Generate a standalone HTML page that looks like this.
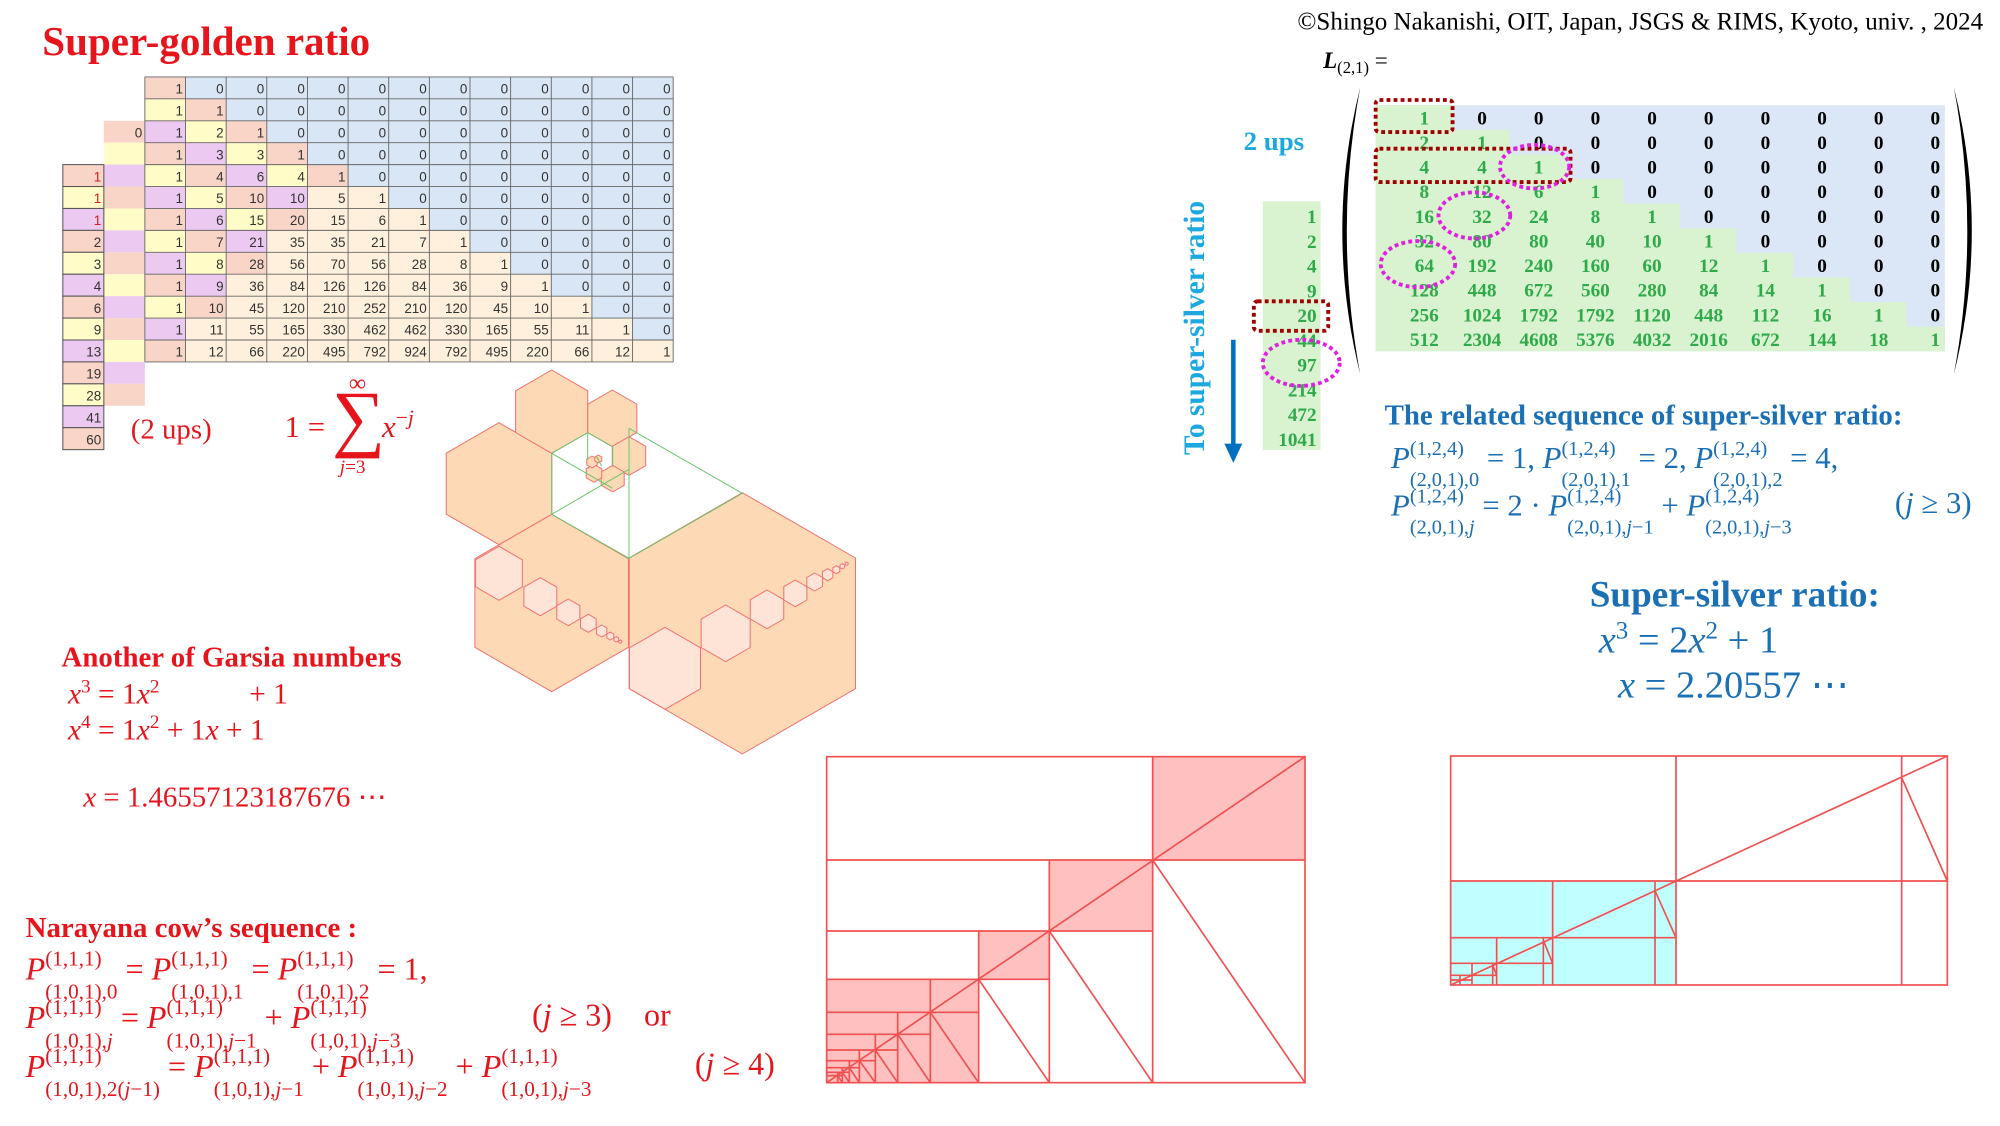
<!DOCTYPE html>
<html><head><meta charset="utf-8">
<style>
html,body{margin:0;padding:0;background:#fff;}
body{width:2000px;height:1125px;overflow:hidden;position:relative;}
#c{position:absolute;left:0;top:0;width:1560px;height:878px;transform:scale(1.28205);transform-origin:0 0;font-family:"Liberation Serif",serif;}
.t{position:absolute;white-space:nowrap;line-height:1;}
.ss{position:relative;display:inline-block;font-size:.66em;}
.sb{position:relative;top:.88em;}
.sp{position:absolute;left:0;top:-.66em;}
.red{color:#e8141c;}
.blu{color:#1a6fb5;}
svg{position:absolute;left:0;top:0;}
</style></head><body><div id="c">
<svg width="1560" height="878" viewBox="0 0 1560 878">
<rect x="113" y="60" width="412.1" height="222.3" fill="#d9e6f5"/>
<polygon fill="#fef0dc" points="113,60 144.7,60 144.7,77.1 176.4,77.1 176.4,94.2 208.1,94.2 208.1,111.3 239.8,111.3 239.8,128.4 271.5,128.4 271.5,145.5 303.2,145.5 303.2,162.6 334.9,162.6 334.9,179.7 366.6,179.7 366.6,196.8 398.3,196.8 398.3,213.9 430,213.9 430,231 461.7,231 461.7,248.1 493.4,248.1 493.4,265.2 525.1,265.2 525.1,282.3 113,282.3"/>
<g>
<rect x="113" y="60" width="31.7" height="17.1" fill="#f9d5c8"/>
<rect x="113" y="77.1" width="31.7" height="17.1" fill="#fffcc8"/><rect x="144.7" y="77.1" width="31.7" height="17.1" fill="#f9d5c8"/>
<rect x="113" y="94.2" width="31.7" height="17.1" fill="#ecc9f0"/><rect x="144.7" y="94.2" width="31.7" height="17.1" fill="#fffcc8"/><rect x="176.4" y="94.2" width="31.7" height="17.1" fill="#f9d5c8"/>
<rect x="113" y="111.3" width="31.7" height="17.1" fill="#f9d5c8"/><rect x="144.7" y="111.3" width="31.7" height="17.1" fill="#ecc9f0"/><rect x="176.4" y="111.3" width="31.7" height="17.1" fill="#fffcc8"/><rect x="208.1" y="111.3" width="31.7" height="17.1" fill="#f9d5c8"/>
<rect x="113" y="128.4" width="31.7" height="17.1" fill="#fffcc8"/><rect x="144.7" y="128.4" width="31.7" height="17.1" fill="#f9d5c8"/><rect x="176.4" y="128.4" width="31.7" height="17.1" fill="#ecc9f0"/><rect x="208.1" y="128.4" width="31.7" height="17.1" fill="#fffcc8"/><rect x="239.8" y="128.4" width="31.7" height="17.1" fill="#f9d5c8"/>
<rect x="113" y="145.5" width="31.7" height="17.1" fill="#ecc9f0"/><rect x="144.7" y="145.5" width="31.7" height="17.1" fill="#fffcc8"/><rect x="176.4" y="145.5" width="31.7" height="17.1" fill="#f9d5c8"/><rect x="208.1" y="145.5" width="31.7" height="17.1" fill="#ecc9f0"/>
<rect x="113" y="162.6" width="31.7" height="17.1" fill="#f9d5c8"/><rect x="144.7" y="162.6" width="31.7" height="17.1" fill="#ecc9f0"/><rect x="176.4" y="162.6" width="31.7" height="17.1" fill="#fffcc8"/><rect x="208.1" y="162.6" width="31.7" height="17.1" fill="#f9d5c8"/>
<rect x="113" y="179.7" width="31.7" height="17.1" fill="#fffcc8"/><rect x="144.7" y="179.7" width="31.7" height="17.1" fill="#f9d5c8"/><rect x="176.4" y="179.7" width="31.7" height="17.1" fill="#ecc9f0"/>
<rect x="113" y="196.8" width="31.7" height="17.1" fill="#ecc9f0"/><rect x="144.7" y="196.8" width="31.7" height="17.1" fill="#fffcc8"/><rect x="176.4" y="196.8" width="31.7" height="17.1" fill="#f9d5c8"/>
<rect x="113" y="213.9" width="31.7" height="17.1" fill="#f9d5c8"/><rect x="144.7" y="213.9" width="31.7" height="17.1" fill="#ecc9f0"/>
<rect x="113" y="231" width="31.7" height="17.1" fill="#fffcc8"/><rect x="144.7" y="231" width="31.7" height="17.1" fill="#f9d5c8"/>
<rect x="113" y="248.1" width="31.7" height="17.1" fill="#ecc9f0"/>
<rect x="113" y="265.2" width="31.7" height="17.1" fill="#f9d5c8"/>
</g>
<g>
<rect x="81" y="94.2" width="32" height="17.1" fill="#f9d5c8"/>
<rect x="81" y="111.3" width="32" height="17.1" fill="#fffcc8"/>
<rect x="81" y="128.4" width="32" height="17.1" fill="#ecc9f0"/>
<rect x="81" y="145.5" width="32" height="17.1" fill="#f9d5c8"/>
<rect x="81" y="162.6" width="32" height="17.1" fill="#fffcc8"/>
<rect x="81" y="179.7" width="32" height="17.1" fill="#ecc9f0"/>
<rect x="81" y="196.8" width="32" height="17.1" fill="#f9d5c8"/>
<rect x="81" y="213.9" width="32" height="17.1" fill="#fffcc8"/>
<rect x="81" y="231" width="32" height="17.1" fill="#ecc9f0"/>
<rect x="81" y="248.1" width="32" height="17.1" fill="#f9d5c8"/>
<rect x="81" y="265.2" width="32" height="17.1" fill="#fffcc8"/>
<rect x="81" y="282.3" width="32" height="17.1" fill="#ecc9f0"/>
<rect x="81" y="299.4" width="32" height="17.1" fill="#f9d5c8"/>
</g>
<g stroke="#555" stroke-width="0.8">
<rect x="49" y="128.4" width="32" height="17.1" fill="#f9d5c8"/>
<rect x="49" y="145.5" width="32" height="17.1" fill="#fffcc8"/>
<rect x="49" y="162.6" width="32" height="17.1" fill="#ecc9f0"/>
<rect x="49" y="179.7" width="32" height="17.1" fill="#f9d5c8"/>
<rect x="49" y="196.8" width="32" height="17.1" fill="#fffcc8"/>
<rect x="49" y="213.9" width="32" height="17.1" fill="#ecc9f0"/>
<rect x="49" y="231" width="32" height="17.1" fill="#f9d5c8"/>
<rect x="49" y="248.1" width="32" height="17.1" fill="#fffcc8"/>
<rect x="49" y="265.2" width="32" height="17.1" fill="#ecc9f0"/>
<rect x="49" y="282.3" width="32" height="17.1" fill="#f9d5c8"/>
<rect x="49" y="299.4" width="32" height="17.1" fill="#fffcc8"/>
<rect x="49" y="316.5" width="32" height="17.1" fill="#ecc9f0"/>
<rect x="49" y="333.6" width="32" height="17.1" fill="#f9d5c8"/>
</g>
<g stroke="#666" stroke-width="0.7">
<line x1="113" y1="60" x2="113" y2="282.3"/><line x1="144.7" y1="60" x2="144.7" y2="282.3"/><line x1="176.4" y1="60" x2="176.4" y2="282.3"/><line x1="208.1" y1="60" x2="208.1" y2="282.3"/><line x1="239.8" y1="60" x2="239.8" y2="282.3"/><line x1="271.5" y1="60" x2="271.5" y2="282.3"/><line x1="303.2" y1="60" x2="303.2" y2="282.3"/><line x1="334.9" y1="60" x2="334.9" y2="282.3"/><line x1="366.6" y1="60" x2="366.6" y2="282.3"/><line x1="398.3" y1="60" x2="398.3" y2="282.3"/><line x1="430" y1="60" x2="430" y2="282.3"/><line x1="461.7" y1="60" x2="461.7" y2="282.3"/><line x1="493.4" y1="60" x2="493.4" y2="282.3"/><line x1="525.1" y1="60" x2="525.1" y2="282.3"/>
<line x1="113" y1="60" x2="525.1" y2="60"/><line x1="113" y1="77.1" x2="525.1" y2="77.1"/><line x1="113" y1="94.2" x2="525.1" y2="94.2"/><line x1="113" y1="111.3" x2="525.1" y2="111.3"/><line x1="113" y1="128.4" x2="525.1" y2="128.4"/><line x1="113" y1="145.5" x2="525.1" y2="145.5"/><line x1="113" y1="162.6" x2="525.1" y2="162.6"/><line x1="113" y1="179.7" x2="525.1" y2="179.7"/><line x1="113" y1="196.8" x2="525.1" y2="196.8"/><line x1="113" y1="213.9" x2="525.1" y2="213.9"/><line x1="113" y1="231" x2="525.1" y2="231"/><line x1="113" y1="248.1" x2="525.1" y2="248.1"/><line x1="113" y1="265.2" x2="525.1" y2="265.2"/><line x1="113" y1="282.3" x2="525.1" y2="282.3"/>
</g>
<g font-family="Liberation Sans Narrow,Liberation Sans,sans-serif" font-size="10.5" fill="#333" text-anchor="end">
<text y="73"><tspan x="142.7">1</tspan><tspan x="174.4">0</tspan><tspan x="206.1">0</tspan><tspan x="237.8">0</tspan><tspan x="269.5">0</tspan><tspan x="301.2">0</tspan><tspan x="332.9">0</tspan><tspan x="364.6">0</tspan><tspan x="396.3">0</tspan><tspan x="428">0</tspan><tspan x="459.7">0</tspan><tspan x="491.4">0</tspan><tspan x="523.1">0</tspan></text>
<text y="90.1"><tspan x="142.7">1</tspan><tspan x="174.4">1</tspan><tspan x="206.1">0</tspan><tspan x="237.8">0</tspan><tspan x="269.5">0</tspan><tspan x="301.2">0</tspan><tspan x="332.9">0</tspan><tspan x="364.6">0</tspan><tspan x="396.3">0</tspan><tspan x="428">0</tspan><tspan x="459.7">0</tspan><tspan x="491.4">0</tspan><tspan x="523.1">0</tspan></text>
<text y="107.2"><tspan x="111">0</tspan><tspan x="142.7">1</tspan><tspan x="174.4">2</tspan><tspan x="206.1">1</tspan><tspan x="237.8">0</tspan><tspan x="269.5">0</tspan><tspan x="301.2">0</tspan><tspan x="332.9">0</tspan><tspan x="364.6">0</tspan><tspan x="396.3">0</tspan><tspan x="428">0</tspan><tspan x="459.7">0</tspan><tspan x="491.4">0</tspan><tspan x="523.1">0</tspan></text>
<text y="124.3"><tspan x="142.7">1</tspan><tspan x="174.4">3</tspan><tspan x="206.1">3</tspan><tspan x="237.8">1</tspan><tspan x="269.5">0</tspan><tspan x="301.2">0</tspan><tspan x="332.9">0</tspan><tspan x="364.6">0</tspan><tspan x="396.3">0</tspan><tspan x="428">0</tspan><tspan x="459.7">0</tspan><tspan x="491.4">0</tspan><tspan x="523.1">0</tspan></text>
<text y="141.4"><tspan x="142.7">1</tspan><tspan x="174.4">4</tspan><tspan x="206.1">6</tspan><tspan x="237.8">4</tspan><tspan x="269.5">1</tspan><tspan x="301.2">0</tspan><tspan x="332.9">0</tspan><tspan x="364.6">0</tspan><tspan x="396.3">0</tspan><tspan x="428">0</tspan><tspan x="459.7">0</tspan><tspan x="491.4">0</tspan><tspan x="523.1">0</tspan></text>
<text y="158.5"><tspan x="142.7">1</tspan><tspan x="174.4">5</tspan><tspan x="206.1">10</tspan><tspan x="237.8">10</tspan><tspan x="269.5">5</tspan><tspan x="301.2">1</tspan><tspan x="332.9">0</tspan><tspan x="364.6">0</tspan><tspan x="396.3">0</tspan><tspan x="428">0</tspan><tspan x="459.7">0</tspan><tspan x="491.4">0</tspan><tspan x="523.1">0</tspan></text>
<text y="175.6"><tspan x="142.7">1</tspan><tspan x="174.4">6</tspan><tspan x="206.1">15</tspan><tspan x="237.8">20</tspan><tspan x="269.5">15</tspan><tspan x="301.2">6</tspan><tspan x="332.9">1</tspan><tspan x="364.6">0</tspan><tspan x="396.3">0</tspan><tspan x="428">0</tspan><tspan x="459.7">0</tspan><tspan x="491.4">0</tspan><tspan x="523.1">0</tspan></text>
<text y="192.7"><tspan x="142.7">1</tspan><tspan x="174.4">7</tspan><tspan x="206.1">21</tspan><tspan x="237.8">35</tspan><tspan x="269.5">35</tspan><tspan x="301.2">21</tspan><tspan x="332.9">7</tspan><tspan x="364.6">1</tspan><tspan x="396.3">0</tspan><tspan x="428">0</tspan><tspan x="459.7">0</tspan><tspan x="491.4">0</tspan><tspan x="523.1">0</tspan></text>
<text y="209.8"><tspan x="142.7">1</tspan><tspan x="174.4">8</tspan><tspan x="206.1">28</tspan><tspan x="237.8">56</tspan><tspan x="269.5">70</tspan><tspan x="301.2">56</tspan><tspan x="332.9">28</tspan><tspan x="364.6">8</tspan><tspan x="396.3">1</tspan><tspan x="428">0</tspan><tspan x="459.7">0</tspan><tspan x="491.4">0</tspan><tspan x="523.1">0</tspan></text>
<text y="226.9"><tspan x="142.7">1</tspan><tspan x="174.4">9</tspan><tspan x="206.1">36</tspan><tspan x="237.8">84</tspan><tspan x="269.5">126</tspan><tspan x="301.2">126</tspan><tspan x="332.9">84</tspan><tspan x="364.6">36</tspan><tspan x="396.3">9</tspan><tspan x="428">1</tspan><tspan x="459.7">0</tspan><tspan x="491.4">0</tspan><tspan x="523.1">0</tspan></text>
<text y="244"><tspan x="142.7">1</tspan><tspan x="174.4">10</tspan><tspan x="206.1">45</tspan><tspan x="237.8">120</tspan><tspan x="269.5">210</tspan><tspan x="301.2">252</tspan><tspan x="332.9">210</tspan><tspan x="364.6">120</tspan><tspan x="396.3">45</tspan><tspan x="428">10</tspan><tspan x="459.7">1</tspan><tspan x="491.4">0</tspan><tspan x="523.1">0</tspan></text>
<text y="261.1"><tspan x="142.7">1</tspan><tspan x="174.4">11</tspan><tspan x="206.1">55</tspan><tspan x="237.8">165</tspan><tspan x="269.5">330</tspan><tspan x="301.2">462</tspan><tspan x="332.9">462</tspan><tspan x="364.6">330</tspan><tspan x="396.3">165</tspan><tspan x="428">55</tspan><tspan x="459.7">11</tspan><tspan x="491.4">1</tspan><tspan x="523.1">0</tspan></text>
<text y="278.2"><tspan x="142.7">1</tspan><tspan x="174.4">12</tspan><tspan x="206.1">66</tspan><tspan x="237.8">220</tspan><tspan x="269.5">495</tspan><tspan x="301.2">792</tspan><tspan x="332.9">924</tspan><tspan x="364.6">792</tspan><tspan x="396.3">495</tspan><tspan x="428">220</tspan><tspan x="459.7">66</tspan><tspan x="491.4">12</tspan><tspan x="523.1">1</tspan></text>
<text x="79" y="141.4" fill="#d02020">1</text><text x="79" y="158.5" fill="#d02020">1</text><text x="79" y="175.6" fill="#d02020">1</text>
<text x="79" y="192.7">2</text><text x="79" y="209.8">3</text><text x="79" y="226.9">4</text><text x="79" y="244">6</text><text x="79" y="261.1">9</text><text x="79" y="278.2">13</text><text x="79" y="295.3">19</text><text x="79" y="312.4">28</text><text x="79" y="329.5">41</text><text x="79" y="346.6">60</text>
</g>

<g transform="translate(335.4,280.8) scale(0.26)" stroke="#f07070" stroke-width="3" stroke-linejoin="round">
<g fill="#fdd9b5">
<polygon points="937,398 1276.5,594 1276.5,986 937,1182 597.5,986 597.5,594"/>
<polygon points="365,463 595.4,596 595.4,862 365,995 134.6,862 134.6,596"/>
<polygon points="207,188 365.5,279.5 365.5,462.5 207,554 48.5,462.5 48.5,279.5"/>
<polygon points="365,30 473.3,92.5 473.3,217.5 365,280 256.7,217.5 256.7,92.5"/>
<polygon points="547,90 620.6,132.5 620.6,217.5 547,260 473.4,217.5 473.4,132.5"/>
<polygon points="597,230 647.2,259 647.2,317 597,346 546.8,317 546.8,259"/>
<polygon points="548,316 582.6,336 582.6,376 548,396 513.4,376 513.4,336"/>
<polygon points="492,313 515.4,326.5 515.4,353.5 492,367 468.6,353.5 468.6,326.5"/>
<polygon points="486,288 501.6,297 501.6,315 486,324 470.4,315 470.4,297"/>
<polygon points="505,285 515.4,291 515.4,303 505,309 494.6,303 494.6,291"/>
</g>
<g fill="#fde4d6">
<polygon points="207,559 277.1,599.5 277.1,680.5 207,721 136.9,680.5 136.9,599.5"/>
<polygon points="331,653 380.4,681.5 380.4,738.5 331,767 281.6,738.5 281.6,681.5"/>
<polygon points="415,717 449.6,737 449.6,777 415,797 380.4,777 380.4,737"/>
<polygon points="475,763 498.4,776.5 498.4,803.5 475,817 451.6,803.5 451.6,776.5"/>
<polygon points="515,795 530.6,804 530.6,822 515,831 499.4,822 499.4,804"/>
<polygon points="541,816 551.4,822 551.4,834 541,840 530.6,834 530.6,822"/>
<polygon points="559,830 566,834 566,842 559,846 552,842 552,834"/>
<polygon points="571,840 575.3,842.5 575.3,847.5 571,850 566.7,847.5 566.7,842.5"/>
<polygon points="705,802 811.5,863.5 811.5,986.5 705,1048 598.5,986.5 598.5,863.5"/>
<polygon points="887,735 960.6,777.5 960.6,862.5 887,905 813.4,862.5 813.4,777.5"/>
<polygon points="1011,690 1061.2,719 1061.2,777 1011,806 960.8,777 960.8,719"/>
<polygon points="1096,660 1130.6,680 1130.6,720 1096,740 1061.4,720 1061.4,680"/>
<polygon points="1154,639 1177.4,652.5 1177.4,679.5 1154,693 1130.6,679.5 1130.6,652.5"/>
<polygon points="1193,626 1208.6,635 1208.6,653 1193,662 1177.4,653 1177.4,635"/>
<polygon points="1219,617 1229.4,623 1229.4,635 1219,641 1208.6,635 1208.6,623"/>
<polygon points="1237,611 1244,615 1244,623 1237,627 1230,623 1230,615"/>
<polygon points="1250,606 1254.3,608.5 1254.3,613.5 1250,616 1245.7,613.5 1245.7,608.5"/>
</g>
<g stroke="#6cc56c" fill="none">
<line x1="365" y1="280" x2="365" y2="463"/>
<line x1="365" y1="463" x2="597" y2="595"/>
<line x1="597" y1="595" x2="937" y2="400"/>
<line x1="937" y1="400" x2="597" y2="205"/>
<line x1="597" y1="205" x2="597" y2="595"/>
<line x1="365" y1="280" x2="473" y2="218"/>
<line x1="365" y1="280" x2="548" y2="385"/>
<line x1="365" y1="463" x2="597" y2="328"/>
<line x1="473" y1="218" x2="473" y2="300"/>
<line x1="473" y1="218" x2="548" y2="260"/>
<line x1="548" y1="260" x2="548" y2="320"/>
<line x1="500" y1="290" x2="515" y2="318"/>
</g>
</g>

<g transform="translate(639.6,585) scale(0.26)" stroke="#f05050" stroke-width="5" fill="none">
<g fill="#ffc0c0" stroke="none">
<rect x="998" y="20" width="457" height="310"/>
<rect x="688" y="330" width="310" height="213"/>
<rect x="476" y="543" width="212" height="145"/>
<rect x="20" y="688" width="456" height="310"/>
</g>
<rect x="20" y="20" width="1435" height="978"/>
<line x1="20" y1="330" x2="1455" y2="330"/>
<line x1="998" y1="20" x2="998" y2="998"/>
<line x1="20" y1="543" x2="998" y2="543"/>
<line x1="688" y1="330" x2="688" y2="998"/>
<line x1="20" y1="688" x2="688" y2="688"/>
<line x1="476" y1="543" x2="476" y2="998"/>
<line x1="20" y1="787" x2="476" y2="787"/>
<line x1="331" y1="688" x2="331" y2="998"/>
<line x1="20" y1="853" x2="331" y2="853"/>
<line x1="233" y1="787" x2="233" y2="998"/>
<line x1="20" y1="900" x2="233" y2="900"/>
<line x1="166" y1="853" x2="166" y2="998"/>
<line x1="20" y1="932" x2="166" y2="932"/>
<line x1="118" y1="900" x2="118" y2="998"/>
<line x1="20" y1="953" x2="118" y2="953"/>
<line x1="88" y1="932" x2="88" y2="998"/>
<line x1="20" y1="967" x2="88" y2="967"/>
<line x1="67" y1="953" x2="67" y2="998"/>
<line x1="20" y1="977" x2="67" y2="977"/>
<line x1="53" y1="967" x2="53" y2="998"/>
<line x1="1455" y1="20" x2="20" y2="998"/>
<line x1="998" y1="330" x2="1455" y2="998"/>
<line x1="688" y1="543" x2="998" y2="998"/>
<line x1="476" y1="688" x2="688" y2="998"/>
<line x1="331" y1="787" x2="476" y2="998"/>
<line x1="233" y1="853" x2="331" y2="998"/>
<line x1="166" y1="900" x2="233" y2="998"/>
<line x1="118" y1="932" x2="166" y2="998"/>
<line x1="88" y1="953" x2="118" y2="998"/>
<line x1="67" y1="967" x2="88" y2="998"/>
<line x1="53" y1="977" x2="67" y2="998"/>
</g>

<g transform="translate(1123.2,585) scale(0.26)" stroke="#f05050" stroke-width="5" fill="none">
<rect x="32" y="393" width="676" height="312" fill="#c0ffff" stroke="none"/>
<rect x="32" y="18" width="1490" height="687"/>
<line x1="32" y1="393" x2="1522" y2="393"/>
<line x1="708" y1="18" x2="708" y2="705"/>
<line x1="1385" y1="18" x2="1385" y2="705"/>
<line x1="1522" y1="18" x2="32" y2="705"/>
<line x1="1385" y1="83" x2="1522" y2="393"/>
<line x1="338" y1="393" x2="338" y2="705"/>
<line x1="32" y1="563" x2="708" y2="563"/>
<line x1="645" y1="393" x2="645" y2="705"/>
<line x1="645" y1="422" x2="708" y2="563"/>
<line x1="32" y1="640" x2="338" y2="640"/>
<line x1="170" y1="563" x2="170" y2="705"/>
<line x1="310" y1="563" x2="310" y2="705"/>
<line x1="310" y1="571" x2="338" y2="640"/>
<line x1="96" y1="640" x2="96" y2="705"/>
<line x1="32" y1="676" x2="170" y2="676"/>
<line x1="158" y1="640" x2="158" y2="705"/>
<line x1="158" y1="645" x2="170" y2="676"/>
<line x1="60" y1="676" x2="60" y2="705"/>
<line x1="32" y1="690" x2="96" y2="690"/>
</g>

<rect x="1073" y="82" width="444" height="192" fill="#dbe7f6"/>
<polygon fill="#d9f2d0" points="1073,82 1133.5,82 1133.5,101.2 1177.7,101.2 1177.7,120.4 1221.9,120.4 1221.9,139.6 1266.1,139.6 1266.1,158.8 1310.3,158.8 1310.3,178 1354.5,178 1354.5,197.2 1398.7,197.2 1398.7,216.4 1442.9,216.4 1442.9,235.6 1487.1,235.6 1487.1,254.8 1517,254.8 1517,274 1073,274"/>
<rect x="985" y="157" width="45" height="194" fill="#d9f2d0"/>
<path d="M1061,68 Q1033,180 1061,292 Q1040,180 1061,68Z" fill="#000"/>
<path d="M1524,68 Q1552,180 1524,292 Q1545,180 1524,68Z" fill="#000"/>
<g font-family="Liberation Serif,serif" font-weight="bold" font-size="15" text-anchor="middle" fill="#2eaa4a">
<text y="97"><tspan x="1111">1</tspan></text>
<text y="116.2"><tspan x="1111">2</tspan><tspan x="1156">1</tspan></text>
<text y="135.4"><tspan x="1111">4</tspan><tspan x="1156">4</tspan><tspan x="1200.2">1</tspan></text>
<text y="154.6"><tspan x="1111">8</tspan><tspan x="1156">12</tspan><tspan x="1200.2">6</tspan><tspan x="1244.4">1</tspan></text>
<text y="173.8"><tspan x="1111">16</tspan><tspan x="1156">32</tspan><tspan x="1200.2">24</tspan><tspan x="1244.4">8</tspan><tspan x="1288.6">1</tspan></text>
<text y="193"><tspan x="1111">32</tspan><tspan x="1156">80</tspan><tspan x="1200.2">80</tspan><tspan x="1244.4">40</tspan><tspan x="1288.6">10</tspan><tspan x="1332.8">1</tspan></text>
<text y="212.2"><tspan x="1111">64</tspan><tspan x="1156">192</tspan><tspan x="1200.2">240</tspan><tspan x="1244.4">160</tspan><tspan x="1288.6">60</tspan><tspan x="1332.8">12</tspan><tspan x="1377">1</tspan></text>
<text y="231.4"><tspan x="1111">128</tspan><tspan x="1156">448</tspan><tspan x="1200.2">672</tspan><tspan x="1244.4">560</tspan><tspan x="1288.6">280</tspan><tspan x="1332.8">84</tspan><tspan x="1377">14</tspan><tspan x="1421.2">1</tspan></text>
<text y="250.6"><tspan x="1111">256</tspan><tspan x="1156">1024</tspan><tspan x="1200.2">1792</tspan><tspan x="1244.4">1792</tspan><tspan x="1288.6">1120</tspan><tspan x="1332.8">448</tspan><tspan x="1377">112</tspan><tspan x="1421.2">16</tspan><tspan x="1465.4">1</tspan></text>
<text y="269.8"><tspan x="1111">512</tspan><tspan x="1156">2304</tspan><tspan x="1200.2">4608</tspan><tspan x="1244.4">5376</tspan><tspan x="1288.6">4032</tspan><tspan x="1332.8">2016</tspan><tspan x="1377">672</tspan><tspan x="1421.2">144</tspan><tspan x="1465.4">18</tspan><tspan x="1509.6">1</tspan></text>
</g>
<g font-family="Liberation Serif,serif" font-weight="bold" font-size="15" text-anchor="middle" fill="#000">
<text y="97"><tspan x="1156">0</tspan><tspan x="1200.2">0</tspan><tspan x="1244.4">0</tspan><tspan x="1288.6">0</tspan><tspan x="1332.8">0</tspan><tspan x="1377">0</tspan><tspan x="1421.2">0</tspan><tspan x="1465.4">0</tspan><tspan x="1509.6">0</tspan></text>
<text y="116.2"><tspan x="1200.2">0</tspan><tspan x="1244.4">0</tspan><tspan x="1288.6">0</tspan><tspan x="1332.8">0</tspan><tspan x="1377">0</tspan><tspan x="1421.2">0</tspan><tspan x="1465.4">0</tspan><tspan x="1509.6">0</tspan></text>
<text y="135.4"><tspan x="1244.4">0</tspan><tspan x="1288.6">0</tspan><tspan x="1332.8">0</tspan><tspan x="1377">0</tspan><tspan x="1421.2">0</tspan><tspan x="1465.4">0</tspan><tspan x="1509.6">0</tspan></text>
<text y="154.6"><tspan x="1288.6">0</tspan><tspan x="1332.8">0</tspan><tspan x="1377">0</tspan><tspan x="1421.2">0</tspan><tspan x="1465.4">0</tspan><tspan x="1509.6">0</tspan></text>
<text y="173.8"><tspan x="1332.8">0</tspan><tspan x="1377">0</tspan><tspan x="1421.2">0</tspan><tspan x="1465.4">0</tspan><tspan x="1509.6">0</tspan></text>
<text y="193"><tspan x="1377">0</tspan><tspan x="1421.2">0</tspan><tspan x="1465.4">0</tspan><tspan x="1509.6">0</tspan></text>
<text y="212.2"><tspan x="1421.2">0</tspan><tspan x="1465.4">0</tspan><tspan x="1509.6">0</tspan></text>
<text y="231.4"><tspan x="1465.4">0</tspan><tspan x="1509.6">0</tspan></text>
<text y="250.6"><tspan x="1509.6">0</tspan></text>
</g>
<g font-family="Liberation Serif,serif" font-weight="bold" font-size="15" text-anchor="end" fill="#2eaa4a">
<text x="1027" y="174">1</text><text x="1027" y="193.3">2</text><text x="1027" y="212.6">4</text><text x="1027" y="231.9">9</text><text x="1027" y="251.2">20</text><text x="1027" y="270.5">44</text><text x="1027" y="289.8">97</text><text x="1027" y="309.1">214</text><text x="1027" y="328.4">472</text><text x="1027" y="347.7">1041</text>
</g>
<g fill="none" stroke="#a00000" stroke-width="3" stroke-dasharray="3,2.5">
<rect x="1073" y="78" width="60" height="25" rx="3"/>
<rect x="1073" y="116" width="152" height="26" rx="3"/>
<rect x="978" y="235" width="58" height="23" rx="3"/>
</g>
<g fill="none" stroke="#e020e0" stroke-width="3" stroke-dasharray="3,2.5">
<ellipse cx="1197" cy="130" rx="27" ry="17"/>
<ellipse cx="1150" cy="168" rx="28" ry="18"/>
<ellipse cx="1106" cy="206" rx="29" ry="18"/>
<ellipse cx="1015" cy="283" rx="30" ry="18"/>
</g>
<line x1="962" y1="265" x2="962" y2="348" stroke="#0070c0" stroke-width="3.5"/>
<polygon points="955,346 969,346 962,361" fill="#0070c0"/>
<text transform="translate(939,355) rotate(-90)" font-family="Liberation Serif,serif" font-weight="bold" font-size="23" fill="#1ea8e0">To super-silver ratio</text>
<text x="970" y="117" font-family="Liberation Serif,serif" font-weight="bold" font-size="21" fill="#1ea8e0">2 ups</text>
</svg>

<div class="t" style="left:33px;top:16px;font-size:32px;font-weight:bold;color:#e8141c;">Super-golden ratio</div>
<div class="t" style="left:1012px;top:8px;font-size:19.5px;color:#000;">©Shingo Nakanishi, OIT, Japan, JSGS &amp; RIMS, Kyoto, univ. , 2024</div>
<div class="t" style="left:1032px;top:38px;font-size:18px;color:#000;"><b><i>L</i></b><span style="font-size:.72em;position:relative;top:.3em;">(2,1)</span> =</div>
<div class="t red" style="left:102px;top:324px;font-size:22.5px;">(2 ups)</div>
<div class="t red" style="left:222px;top:322px;font-size:24px;">1 =</div>
<div class="t red" style="left:259px;top:297px;font-size:58px;">∑</div>
<div class="t red" style="left:272px;top:290px;font-size:19px;">∞</div>
<div class="t red" style="left:265px;top:358px;font-size:15px;"><i>j</i>=3</div>
<div class="t red" style="left:298px;top:322px;font-size:24px;"><i>x</i><span style="font-size:.7em;position:relative;top:-.6em;">−<i>j</i></span></div>

<div class="t red" style="left:48px;top:502px;font-size:22.5px;font-weight:bold;">Another of Garsia numbers</div>
<div class="t red" style="left:53px;top:529px;font-size:23px;"><i>x</i><sup style="font-size:.65em;">3</sup> = 1<i>x</i><sup style="font-size:.65em;">2</sup><span style="display:inline-block;width:70px"></span>+ 1</div>
<div class="t red" style="left:53px;top:557px;font-size:23px;"><i>x</i><sup style="font-size:.65em;">4</sup> = 1<i>x</i><sup style="font-size:.65em;">2</sup> + 1<i>x</i> + 1</div>
<div class="t red" style="left:65px;top:611px;font-size:22.5px;"><i>x</i> = 1.46557123187676 ⋯</div>

<div class="t red" style="left:20px;top:713px;font-size:22.5px;font-weight:bold;">Narayana cow’s sequence :</div>
<div class="t red" style="left:20px;top:744px;font-size:25px;"><i>P</i><span class="ss"><span class="sp">(1,1,1)</span><span class="sb">(1,0,1),0</span></span> = <i>P</i><span class="ss"><span class="sp">(1,1,1)</span><span class="sb">(1,0,1),1</span></span> = <i>P</i><span class="ss"><span class="sp">(1,1,1)</span><span class="sb">(1,0,1),2</span></span> = 1,</div>
<div class="t red" style="left:20px;top:782px;font-size:25px;"><i>P</i><span class="ss"><span class="sp">(1,1,1)</span><span class="sb">(1,0,1),<i>j</i></span></span> = <i>P</i><span class="ss"><span class="sp">(1,1,1)</span><span class="sb">(1,0,1),<i>j</i>−1</span></span> + <i>P</i><span class="ss"><span class="sp">(1,1,1)</span><span class="sb">(1,0,1),<i>j</i>−3</span></span></div>
<div class="t red" style="left:415px;top:780px;font-size:25px;">(<i>j</i> ≥ 3)&nbsp;&nbsp;&nbsp; or</div>
<div class="t red" style="left:20px;top:820px;font-size:25px;"><i>P</i><span class="ss"><span class="sp">(1,1,1)</span><span class="sb">(1,0,1),2(<i>j</i>−1)</span></span> = <i>P</i><span class="ss"><span class="sp">(1,1,1)</span><span class="sb">(1,0,1),<i>j</i>−1</span></span> + <i>P</i><span class="ss"><span class="sp">(1,1,1)</span><span class="sb">(1,0,1),<i>j</i>−2</span></span> + <i>P</i><span class="ss"><span class="sp">(1,1,1)</span><span class="sb">(1,0,1),<i>j</i>−3</span></span></div>
<div class="t red" style="left:542px;top:818px;font-size:25px;">(<i>j</i> ≥ 4)</div>

<div class="t blu" style="left:1080px;top:313px;font-size:22.5px;font-weight:bold;">The related sequence of super-silver ratio:</div>
<div class="t blu" style="left:1085px;top:346px;font-size:24px;"><i>P</i><span class="ss"><span class="sp">(1,2,4)</span><span class="sb">(2,0,1),0</span></span> = 1, <i>P</i><span class="ss"><span class="sp">(1,2,4)</span><span class="sb">(2,0,1),1</span></span> = 2, <i>P</i><span class="ss"><span class="sp">(1,2,4)</span><span class="sb">(2,0,1),2</span></span> = 4,</div>
<div class="t blu" style="left:1085px;top:383px;font-size:24px;"><i>P</i><span class="ss"><span class="sp">(1,2,4)</span><span class="sb">(2,0,1),<i>j</i></span></span> = 2 · <i>P</i><span class="ss"><span class="sp">(1,2,4)</span><span class="sb">(2,0,1),<i>j</i>−1</span></span> + <i>P</i><span class="ss"><span class="sp">(1,2,4)</span><span class="sb">(2,0,1),<i>j</i>−3</span></span></div>
<div class="t blu" style="left:1478px;top:381px;font-size:24px;">(<i>j</i> ≥ 3)</div>

<div class="t blu" style="left:1240px;top:450px;font-size:29px;font-weight:bold;">Super-silver ratio:</div>
<div class="t blu" style="left:1247px;top:483px;font-size:30px;"><i>x</i><sup style="font-size:.65em;">3</sup> = 2<i>x</i><sup style="font-size:.65em;">2</sup> + 1</div>
<div class="t blu" style="left:1262px;top:520px;font-size:30px;"><i>x</i> = 2.20557 ⋯</div>
</div></body></html>
